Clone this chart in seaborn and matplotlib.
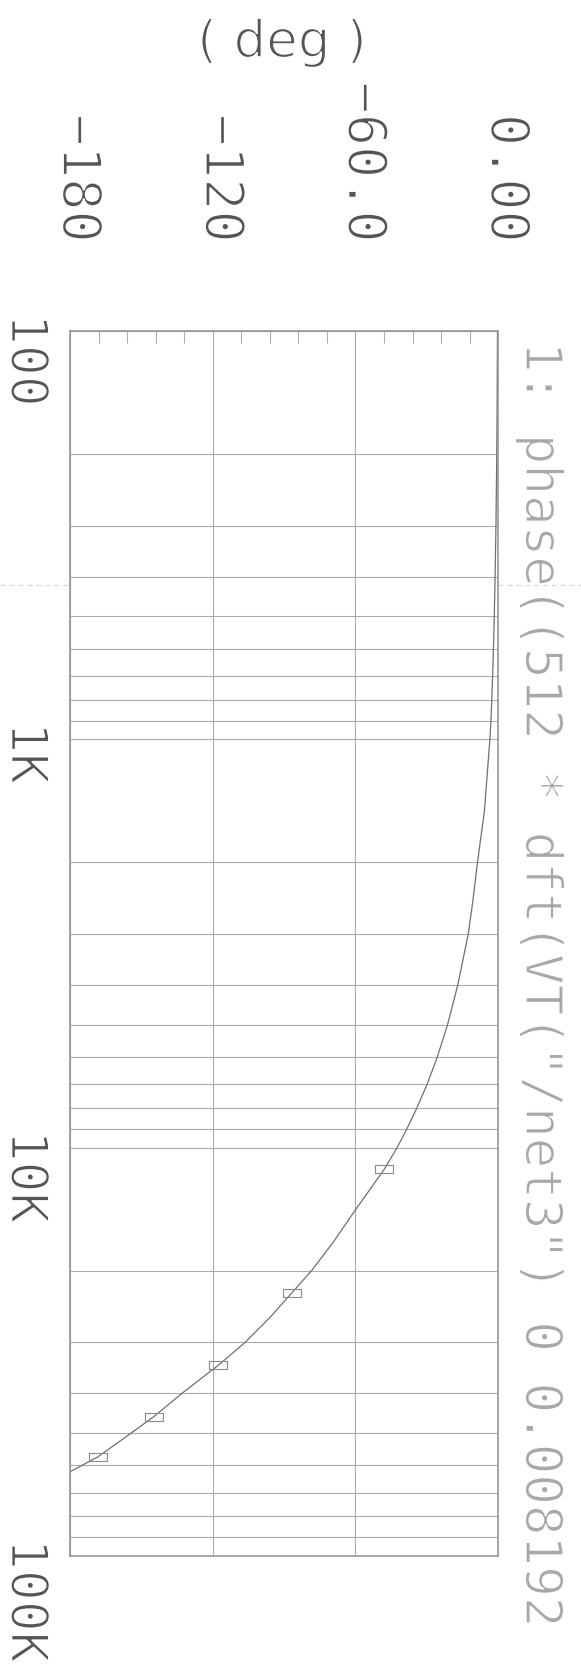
import numpy as np
import pandas as pd
import matplotlib
matplotlib.use("Agg")
import matplotlib.pyplot as plt
import matplotlib.transforms as mtransforms
import matplotlib.patheffects as pe
from matplotlib.lines import Line2D
from matplotlib.ticker import LogLocator, FixedLocator, NullFormatter
import seaborn as sns

# Phase of the 512-point DFT of VT("/net3"), in degrees, against frequency in Hz
freq_hz = [100, 150, 200, 300, 400, 500, 600, 700, 800, 900,
           1000, 1500, 2000, 2500, 3000, 4000, 5000, 6000, 7000, 8000,
           9000, 10000, 11300, 14200, 17000, 20000, 22700, 26000, 30000,
           34100, 40000, 45600, 51000, 57200, 62000]
phase_deg = [-0.3, -0.45, -0.6, -0.95, -1.3, -1.65, -2.0, -2.35, -2.7, -3.05,
             -3.5, -5.8, -8.7, -10.7, -12.6, -17.0, -21.3, -25.6, -29.9, -34.2,
             -38.4, -42.5, -47.9, -60.0, -69.2, -78.4, -86.8, -95.8, -106.4,
             -117.6, -133.0, -144.8, -156.3, -168.3, -179.5]
marker_freq_hz = [11300, 22700, 34100, 45600, 57200]

phase_ticks = [-180, -120, -60, 0]
phase_tick_labels = ["\u2212180", "\u2212120", "\u221260.0", "0.00"]
freq_ticks = [100, 1000, 10000, 100000]
freq_tick_labels = ["100", "1K", "10K", "100K"]
title_text = '1: phase((512 * dft(VT("/net3") 0 0.008192'
unit_label = "( deg )"

sns.set_theme(style="white")
plt.rcParams["font.family"] = ["DejaVu Sans Mono", "DejaVu Sans"]

df = pd.DataFrame({"freq": freq_hz, "phase": phase_deg})
mark_idx = [int(i) for i in np.flatnonzero(np.isin(df["freq"], marker_freq_hz))]

fig = plt.figure(figsize=(5.81, 16.79), dpi=100)
ax = fig.add_axes([0.1205, 0.0733, 0.737, 0.7296])

grid_c = "#ababab"
ink = "#555555"
# thin pen look: fill the glyph, then shave its edge with white
thin = [pe.Normal(), pe.Stroke(linewidth=1.3, foreground="white")]
thin_title = [pe.Normal(), pe.Stroke(linewidth=1.0, foreground="white")]

# frequency runs down the page on a log scale, phase runs across
ax.set_yscale("log")
ax.set_ylim(1e5, 100)
ax.set_xlim(-180, 0)

ax.yaxis.set_major_locator(FixedLocator(freq_ticks))
ax.yaxis.set_minor_locator(LogLocator(base=10, subs=np.arange(2, 10)))
ax.yaxis.set_major_formatter(NullFormatter())
ax.yaxis.set_minor_formatter(NullFormatter())
ax.xaxis.set_major_locator(FixedLocator(phase_ticks))
ax.xaxis.set_minor_locator(FixedLocator(np.arange(-180, 1, 12)))
ax.xaxis.set_major_formatter(NullFormatter())

ax.grid(True, axis="y", which="both", color=grid_c, lw=0.8)
ax.grid(True, axis="x", which="major", color=grid_c, lw=0.8)
ax.tick_params(axis="y", which="both", length=0, left=False, right=False)
ax.tick_params(axis="x", which="major", length=0)
ax.tick_params(axis="x", which="minor", direction="in", top=True, bottom=False,
               length=8.5, width=0.8, color=grid_c)
ax.tick_params(labelleft=False, labelbottom=False, labeltop=False)
for s in ax.spines.values():
    s.set_color("#8f8f8f")
    s.set_linewidth(1.1)

rect = [(-1, -0.4), (1, -0.4), (1, 0.4), (-1, 0.4), (-1, -0.4)]
sns.lineplot(data=df, x="phase", y="freq", sort=False, estimator=None, ax=ax,
             color="#707070", lw=0.9, marker=rect, markevery=mark_idx,
             markersize=13, markerfacecolor="none", markeredgecolor="#8a8a8a",
             markeredgewidth=0.8)
ax.set_xlabel("")
ax.set_ylabel("")

# frequency labels, rotated, beside the left edge
ytrans = mtransforms.offset_copy(ax.get_yaxis_transform(), fig=fig, y=17, units="dots")
for f, lab in zip(freq_ticks, freq_tick_labels):
    ax.text(-0.104, f, lab, transform=ytrans, rotation=270, ha="center", va="top",
            fontsize=37, color=ink, clip_on=False, path_effects=thin)

# phase labels, rotated, above the top edge
xtrans = mtransforms.offset_copy(ax.get_xaxis_transform(), fig=fig, x=8, units="dots")
for p, lab in zip(phase_ticks, phase_tick_labels):
    ax.text(p, 1 + 88 / 1225, lab, transform=xtrans, rotation=270, ha="center",
            va="bottom", fontsize=38.5, color=ink, clip_on=False, path_effects=thin)

ax.text(0.495, 1.235, unit_label, transform=ax.transAxes, ha="center", va="center",
        fontsize=37, color=ink, clip_on=False, family="DejaVu Sans", path_effects=thin)

fig.text(540 / 581, 1 - 342 / 1679, title_text, rotation=270, ha="center", va="top",
         fontsize=36.6, color="#a8a8a8", path_effects=thin_title)

# faint fold line running across the sheet
fig.add_artist(Line2D([0, 1], [1 - 585 / 1679, 1 - 585 / 1679], transform=fig.transFigure,
                      color="#d6d6d6", lw=0.8, ls=(0, (5, 3)), zorder=0))

fig.savefig("out.png", dpi=100, facecolor="white")
